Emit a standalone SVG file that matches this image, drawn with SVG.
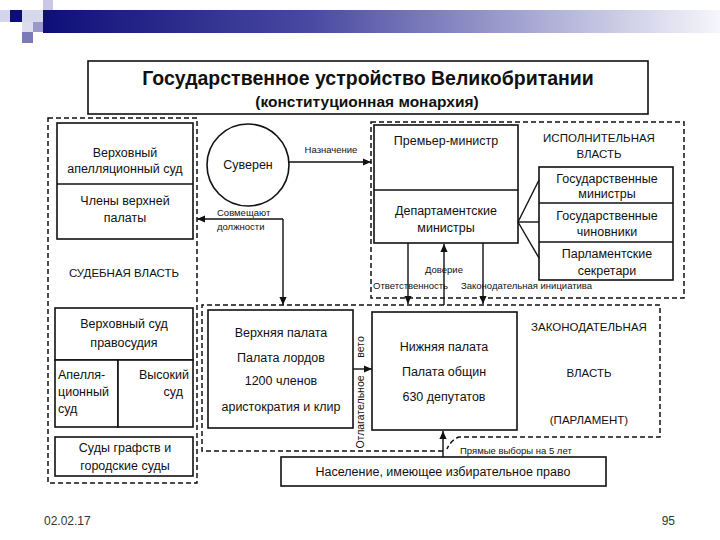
<svg xmlns="http://www.w3.org/2000/svg" width="720" height="540" viewBox="0 0 720 540">
<defs>
<linearGradient id="band" x1="0" y1="0" x2="1" y2="0">
<stop offset="0" stop-color="#0e0e78"/>
<stop offset="0.4" stop-color="#4a4aa2"/>
<stop offset="0.75" stop-color="#b0b0d8"/>
<stop offset="1" stop-color="#f6f6fb"/>
</linearGradient>
<marker id="arr" viewBox="0 0 10 10" refX="10" refY="5" markerWidth="9" markerHeight="8" markerUnits="userSpaceOnUse" orient="auto">
<path d="M0,0.5 L10,5 L0,9.5 Z" fill="#111"/>
</marker>
</defs>
<style>
.box{fill:#fff;stroke:#111;stroke-width:1.6}
.reg{fill:none;stroke:#111;stroke-width:1.5;stroke-dasharray:5 3}
.ln{fill:none;stroke:#111;stroke-width:1.4}
.t{font-family:"Liberation Sans",Arial,sans-serif;font-size:12.5px;fill:#111;text-anchor:middle}
.s{font-size:9.5px}
.v{font-size:10.5px}
.u{font-size:11.5px}
.l{text-anchor:start}
.r{text-anchor:end}
</style>
<rect width="720" height="540" fill="#fff"/>
<g id="decoration">
<rect x="43" y="10" width="677" height="23" fill="url(#band)"/>
<rect x="0" y="10" width="10" height="12" fill="#d4d4ea"/>
<rect x="10" y="10" width="12" height="12" fill="#0e0e78"/>
<rect x="22" y="10" width="21" height="12" fill="#d8d8ec"/>
<rect x="43" y="0" width="10" height="10" fill="#c8c8e4"/>
<rect x="22" y="22" width="11" height="10" fill="#dcdcee"/>
<rect x="33" y="22" width="10" height="10" fill="#9a9aca"/>
<rect x="22" y="32" width="11" height="11" fill="#7a7ab8"/>
</g>
<g id="title">
<rect class="box" x="88" y="61" width="560" height="53"/>
<text class="t" x="368" y="85" style="font-size:19.5px;font-weight:bold">Государственное устройство Великобритании</text>
<text class="t" x="367" y="107" style="font-size:15.5px;font-weight:bold">(конституционная монархия)</text>
</g>
<g id="regions">
<rect id="judicial-region" class="reg" x="48" y="118" width="149" height="365"/>
<rect id="executive-region" class="reg" x="371" y="122" width="313" height="176"/>
<path id="legislative-region" class="reg" d="M443,451 H202 V305 H660 V437 H459 Q451,440 447,449"/>
<text class="t u" x="124" y="277">СУДЕБНАЯ ВЛАСТЬ</text>
<text class="t u" x="599" y="142">ИСПОЛНИТЕЛЬНАЯ</text>
<text class="t u" x="599" y="158">ВЛАСТЬ</text>
<text class="t u" x="589" y="331">ЗАКОНОДАТЕЛЬНАЯ</text>
<text class="t u" x="589" y="377">ВЛАСТЬ</text>
<text class="t u" x="589" y="424">(ПАРЛАМЕНТ)</text>
</g>
<g id="supreme-appeal-court">
<rect class="box" x="57" y="123" width="136" height="116"/>
<line class="ln" x1="57" y1="184" x2="193" y2="184"/>
<text class="t" x="125" y="157">Верховный</text>
<text class="t" x="125" y="173">апелляционный суд</text>
<text class="t" x="125" y="205">Члены верхней</text>
<text class="t" x="125" y="222">палаты</text>
</g>
<g id="supreme-court">
<rect class="box" x="55" y="308" width="138" height="52"/>
<text class="t" x="124" y="328">Верховный суд</text>
<text class="t" x="124" y="347">правосудия</text>
</g>
<g id="appeal-court">
<rect class="box" x="55" y="360" width="63" height="67"/>
<text class="t l" x="58" y="379">Апелля-</text>
<text class="t l" x="58" y="396">ционный</text>
<text class="t l" x="58" y="413">суд</text>
</g>
<g id="high-court">
<rect class="box" x="118" y="360" width="75" height="67"/>
<text class="t r" x="189" y="379">Высокий</text>
<text class="t r" x="183" y="396">суд</text>
</g>
<g id="county-courts">
<rect class="box" x="55" y="437" width="138" height="39"/>
<text class="t" x="125" y="452">Суды графств и</text>
<text class="t" x="125" y="470">городские суды</text>
</g>
<g id="sovereign">
<circle class="box" cx="248" cy="165" r="41"/>
<text class="t" x="248" y="169">Суверен</text>
</g>
<g id="prime-minister">
<rect class="box" x="374" y="125" width="144" height="118"/>
<line class="ln" x1="374" y1="190" x2="518" y2="190"/>
<text class="t" x="446" y="145">Премьер-министр</text>
<text class="t" x="446" y="215">Департаментские</text>
<text class="t" x="446" y="232">министры</text>
</g>
<g id="ministers-stack">
<rect class="box" x="539" y="167" width="134" height="113"/>
<line class="ln" x1="539" y1="203" x2="673" y2="203"/>
<line class="ln" x1="539" y1="242" x2="673" y2="242"/>
<text class="t" x="607" y="183">Государственные</text>
<text class="t" x="607" y="198">министры</text>
<text class="t" x="607" y="220">Государственные</text>
<text class="t" x="607" y="236">чиновники</text>
<text class="t" x="607" y="258">Парламентские</text>
<text class="t" x="607" y="275">секретари</text>
</g>
<g id="upper-house">
<rect class="box" x="208" y="310" width="145" height="118"/>
<text class="t" x="281" y="337">Верхняя палата</text>
<text class="t" x="281" y="362">Палата лордов</text>
<text class="t" x="281" y="385">1200 членов</text>
<text class="t" x="281" y="411">аристократия и клир</text>
</g>
<g id="lower-house">
<rect class="box" x="372" y="312" width="145" height="118"/>
<text class="t" x="444" y="351">Нижняя палата</text>
<text class="t" x="444" y="376">Палата общин</text>
<text class="t" x="444" y="401">630 депутатов</text>
</g>
<g id="population">
<rect class="box" x="281" y="457" width="325" height="29"/>
<text class="t" x="443" y="476">Население, имеющее избирательное право</text>
</g>
<g id="connectors">
<line class="ln" x1="518" y1="222" x2="539" y2="180"/>
<line class="ln" x1="518" y1="222" x2="539" y2="222"/>
<line class="ln" x1="518" y1="222" x2="539" y2="258"/>
<path class="ln" d="M289,162 H371" marker-end="url(#arr)"/>
<path class="ln" d="M283,219 H197" marker-end="url(#arr)"/>
<path class="ln" d="M283,219 V305" marker-end="url(#arr)"/>
<path class="ln" d="M408,243 V304" marker-end="url(#arr)"/>
<path class="ln" d="M444,305 V244" marker-end="url(#arr)"/>
<path class="ln" d="M483,243 V304" marker-end="url(#arr)"/>
<path class="ln" d="M353,369 H372" marker-end="url(#arr)"/>
<path class="ln" d="M443,457 V431" marker-end="url(#arr)"/>
<text class="t s" x="331" y="153">Назначение</text>
<text class="t s l" x="217" y="216">Совмещают</text>
<text class="t s l" x="217" y="230">должности</text>
<text class="t s" x="444" y="273">Доверие</text>
<text class="t s l" x="373" y="289">Ответственность</text>
<text class="t s l" x="461" y="289">Законодательная инициатива</text>
<text class="t s l" x="460" y="454">Прямые выборы на 5 лет</text>
<text class="t v" transform="translate(364,347) rotate(-90)">вето</text>
<text class="t v" transform="translate(364,412) rotate(-90)">Отлагательное</text>
</g>
<g id="footer">
<text class="t l" x="44" y="525" style="font-size:12px;fill:#333">02.02.17</text>
<text class="t r" x="675" y="525" style="font-size:12px;fill:#333">95</text>
</g>
</svg>
